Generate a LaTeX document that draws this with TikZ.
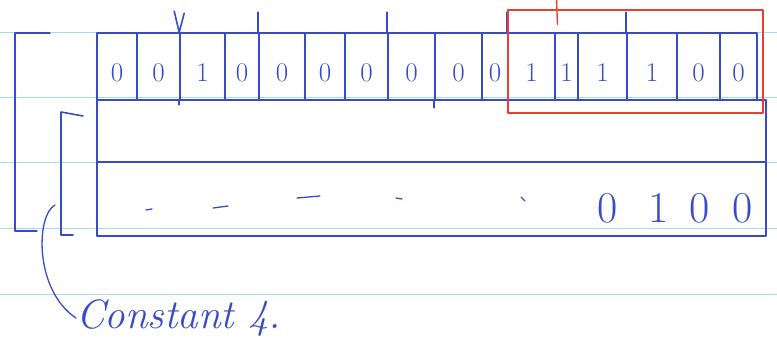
\documentclass[tikz,border=0pt]{standalone}
\usetikzlibrary{calc}
\definecolor{ink}{RGB}{55,75,200}
\definecolor{redink}{RGB}{232,62,52}
\definecolor{ruleblue}{RGB}{165,218,242}
\begin{document}
\begin{tikzpicture}[x=1pt,y=-1pt,line cap=round,line join=round,
  pen/.style={draw=ink,line width=1.6pt},
  cell/.style={pen,minimum height=67pt,inner sep=0pt},
  digit/.style={text=ink,inner sep=0pt,font=\fontsize{27}{27}\selectfont},
  bigdigit/.style={text=ink,inner sep=0pt,font=\fontsize{44}{44}\selectfont},
  rowbox/.style={pen,minimum width=669pt,inner sep=0pt},
  redbox/.style={draw=redink,line width=1.4pt,inner sep=0pt},
  ruled/.style={draw=ruleblue,line width=0.8pt},
  note/.style={text=ink,inner sep=0pt,font=\fontsize{41}{41}\selectfont\itshape}]
\useasboundingbox (0,0) rectangle (777,341);
% ruled paper lines
\foreach \y in {32,97,162,228,294} \draw[ruled] (0,\y) -- (777,\y);
% lower box
\node[rowbox,minimum height=62pt] (row1) at (431.5,131) {};
\node[rowbox,minimum height=74pt] (row2) at (431.5,199) {};
% top register
\foreach \i/\l/\r/\d in {1/97/137/0,2/137/180/0,3/180/225/1,4/225/259/0,5/259/305/0,6/305/345/0,7/345/388/0,8/388/435/0,9/435/482/0,10/482/508/0,11/508/555/1,12/555/578/1,13/578/627/1,14/627/677/1,15/677/720/0,16/720/757/0}{
  \node[cell,minimum width={(\r-\l)*1pt}] (c\i) at ({(\l+\r)/2},66.5) {};
  \node[digit] (d\i) at ($(c\i.center)+(0,6)$) {\d};
}
% ticks above the register
\draw[pen] ($(c3.north west)+(-5,-21)$) -- (c3.north west) -- ($(c3.north west)+(5,-19)$);
\foreach \c in {c5,c8,c11,c14} \draw[pen] (\c.north west) -- ++(0,-20);
\draw[pen] (c3.south west) -- ++(0,4);
\draw[pen] (c9.south west) -- ++(0,7);
% red frame
\node[redbox,minimum width=255pt,minimum height=103pt] (sel) at (635.5,61.5) {};
\draw[redink,line width=1.4pt] (sel.north) ++(-79,-10) -- ++(1,25);
% value in second row
\node[bigdigit] (v1) at (608,208) {0};
\node[bigdigit] (v2) at (659,208) {1};
\node[bigdigit] (v3) at (700,208) {0};
\node[bigdigit] (v4) at (743,208) {0};
% dashes
\draw[pen,line width=1.3pt] (146,210) -- (152,209);
\draw[pen,line width=1.3pt] (213,208) -- (228,206);
\draw[pen,line width=1.3pt] (297,198) -- (320,196);
\draw[pen,line width=1.3pt] (396,198) -- (402,199);
\draw[pen,line width=1.3pt] (521,197) -- (525,201);
% brackets
\coordinate (ob1) at (50,33);
\coordinate (ob2) at (37,231);
\draw[draw=ink,line width=1.2pt] (ob1) -- (15,33) -- (15,231) -- (ob2);
\coordinate (ib1) at (83,116);
\coordinate (ib2) at (73,235);
\draw[pen] (ib1) -- (61,112) -- (61,235) -- (ib2);
% label
\node[note,anchor=west] (lbl) at (76,318) {Constant 4.};
\coordinate (cv) at (55,205);
\draw[pen,line width=1.3pt] (cv) .. controls (36,215) and (34,290) .. (lbl.west);
\end{tikzpicture}
\end{document}
